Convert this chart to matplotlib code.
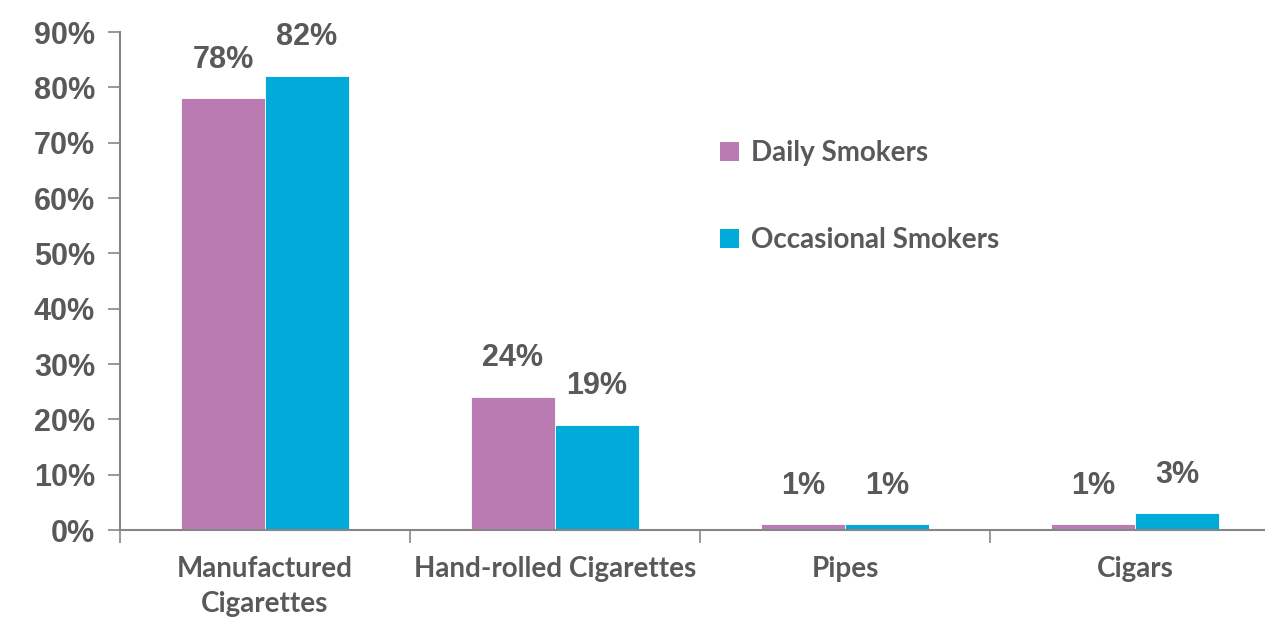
import matplotlib
matplotlib.use("Agg")
import matplotlib.pyplot as plt
import numpy as np
from matplotlib.patches import Patch

categories = ["Manufactured\nCigarettes", "Hand-rolled Cigarettes", "Pipes", "Cigars"]
daily = [78, 24, 1, 1]
occasional = [82, 19, 1, 3]
series_names = ["Daily Smokers", "Occasional Smokers"]
y_ticks = [0, 10, 20, 30, 40, 50, 60, 70, 80, 90]

purple = "#B97BB2"
cyan = "#00ABD9"
text_col = "#595959"
axis_col = "#868686"

fig = plt.figure(figsize=(12.65, 6.17), dpi=100)
ax = fig.add_axes([120 / 1265, 87 / 617, 1160 / 1265, 498 / 617])

x = np.arange(len(categories))
w = 0.29
b1 = ax.bar(x - w / 2, daily, w, color=purple, edgecolor="white", linewidth=0.6)
b2 = ax.bar(x + w / 2, occasional, w, color=cyan, edgecolor="white", linewidth=0.6)

for bars, vals in ((b1, daily), (b2, occasional)):
    for rect, v in zip(bars, vals):
        ax.text(rect.get_x() + rect.get_width() / 2, v + 4.3, f"{v}%",
                ha="center", va="bottom", fontsize=22, fontweight="bold",
                color=text_col, family="Liberation Sans")

ax.set_xlim(-0.5, 3.5)
ax.set_ylim(0, 90)
ax.set_yticks(y_ticks)
ax.set_yticklabels([f"{t}%" for t in y_ticks], fontsize=22, fontweight="bold",
                   color=text_col, family="Liberation Sans")

ax.set_xticks(np.arange(-0.5, 3.5, 1.0))
ax.set_xticklabels([])
ax.set_xticks(x, minor=True)
ax.set_xticklabels(categories, minor=True, fontsize=20, fontweight="bold",
                   color=text_col, family="Lato", linespacing=1.4)
ax.tick_params(axis="x", which="minor", length=0, pad=19)
ax.tick_params(axis="x", which="major", length=9, width=1.2, color=axis_col, direction="out")
ax.tick_params(axis="y", length=9, width=1.2, color=axis_col, pad=9)

for s in ("top", "right"):
    ax.spines[s].set_visible(False)
for s in ("left", "bottom"):
    ax.spines[s].set_color(axis_col)
    ax.spines[s].set_linewidth(1.5)

handles = [Patch(facecolor=purple), Patch(facecolor=cyan)]
leg = ax.legend(handles, series_names, loc="upper left",
                bbox_to_anchor=(695 / 1265, (617 - 115) / 617), bbox_transform=fig.transFigure,
                frameon=False, prop={"family": "Lato", "weight": "bold", "size": 20},
                handlelength=0.7, handleheight=0.7, handletextpad=0.4, labelspacing=2.2)
for t in leg.get_texts():
    t.set_color(text_col)

fig.savefig("out.png", dpi=100)
